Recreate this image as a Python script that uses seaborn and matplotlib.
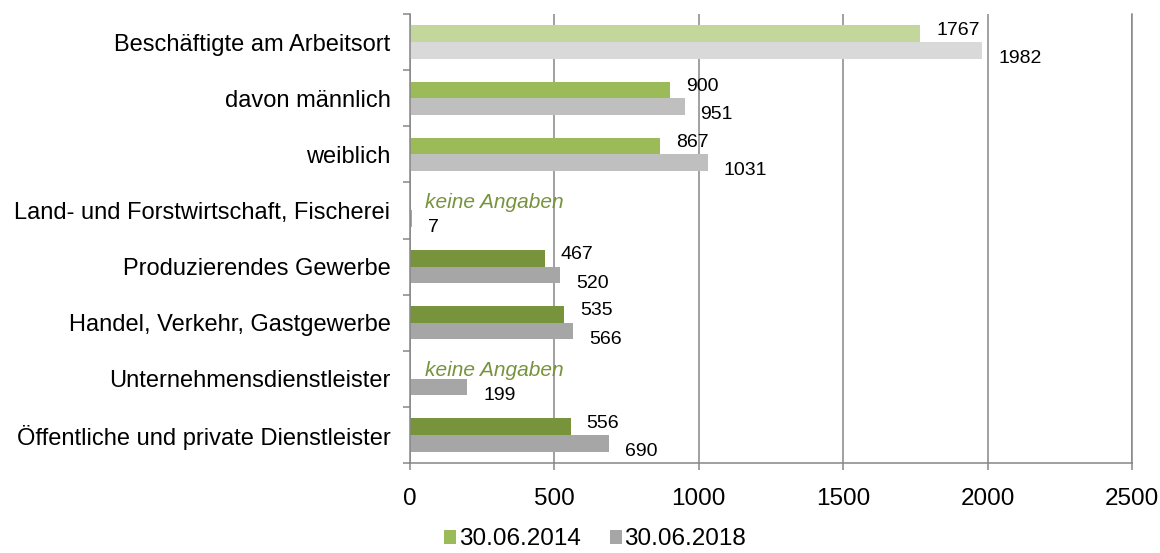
import numpy as np
import pandas as pd
import matplotlib
matplotlib.use('Agg')
import matplotlib.pyplot as plt
from matplotlib.patches import Patch
import seaborn as sns

# Daten
kategorien = [
    'Beschäftigte am Arbeitsort',
    'davon männlich',
    'weiblich',
    'Land- und Forstwirtschaft, Fischerei',
    'Produzierendes Gewerbe',
    'Handel, Verkehr, Gastgewerbe',
    'Unternehmensdienstleister',
    'Öffentliche und private Dienstleister',
]
werte_2014 = [1767, 900, 867, np.nan, 467, 535, np.nan, 556]
werte_2018 = [1982, 951, 1031, 7, 520, 566, 199, 690]
jahre = ['30.06.2014', '30.06.2018']

# Farben je Zeile (2014, 2018)
farben_zeile = [('#C3D69B', '#D9D9D9')] + [('#9BBB59', '#BFBFBF')] * 2 + [('#77933C', '#A6A6A6')] * 5
legende_farben = ['#9BBB59', '#A6A6A6']

df = pd.DataFrame({
    'kategorie': kategorien * 2,
    'wert': werte_2014 + werte_2018,
    'jahr': [jahre[0]] * len(kategorien) + [jahre[1]] * len(kategorien),
})

sns.set_style('white')
plt.rcParams['font.family'] = ['Liberation Sans', 'DejaVu Sans']
plt.rcParams['text.color'] = 'black'
plt.rcParams['xtick.labelcolor'] = 'black'
plt.rcParams['ytick.labelcolor'] = 'black'

fig = plt.figure(figsize=(11.6, 5.53), dpi=100)
ax = fig.add_axes([0.3534, 0.1627, 0.9759 - 0.3534, 0.9747 - 0.1627])

sns.barplot(data=df, y='kategorie', x='wert', hue='jahr', orient='h',
            order=kategorien, hue_order=jahre,
            width=0.59, ax=ax, legend=False, errorbar=None)

# Farben pro Zeile setzen
for j, cont in enumerate(ax.containers):
    for bar in cont:
        w = bar.get_width()
        if np.isnan(w):
            continue
        idx = int(round(bar.get_y() + bar.get_height() / 2 + (0.1475 if j == 0 else -0.1475)))
        bar.set_facecolor(farben_zeile[idx][j])
        bar.set_edgecolor('none')

halb = 0.59 / 4
for i, kat in enumerate(kategorien):
    v14 = werte_2014[i]
    v18 = werte_2018[i]
    if np.isnan(v14):
        ax.annotate('keine Angaben', xy=(0, i - halb), xytext=(11, 0),
                    textcoords='offset points', ha='left', va='center',
                    fontsize=15, style='italic', color='#77933C')
    else:
        ax.annotate(f'{v14:.0f}', xy=(v14, i - halb), xytext=(11.5, 2.5),
                    textcoords='offset points', ha='left', va='center', fontsize=14)
    ax.annotate(f'{v18:.0f}', xy=(v18, i + halb), xytext=(11.5, -6),
                textcoords='offset points', ha='left', va='center', fontsize=14)

ax.set_xlim(0, 2500)
ax.set_ylim(len(kategorien) - 0.5, -0.5)
ax.set_xticks([0, 500, 1000, 1500, 2000, 2500])
ax.set_xlabel('')
ax.set_ylabel('')
ax.grid(axis='x', color='#868686', linewidth=1.1)
ax.grid(axis='y', visible=False)
ax.set_axisbelow(True)

ax.spines['top'].set_visible(False)
for s in ['left', 'bottom', 'right']:
    ax.spines[s].set_color('#868686')
    ax.spines[s].set_linewidth(1.1)

ax.tick_params(axis='x', which='major', length=5, width=1.1, color='#868686',
               direction='out', labelsize=17.5, pad=13, bottom=True)
ax.tick_params(axis='y', which='major', length=0, labelsize=17, pad=14)
ax.set_yticks(np.arange(-0.5, len(kategorien), 1.0), minor=True)
ax.tick_params(axis='y', which='minor', length=5, width=1.1, color='#868686',
               direction='out', left=True)

handles = [Patch(facecolor=c, edgecolor='none', label=l) for c, l in zip(legende_farben, jahre)]
fig.legend(handles=handles, loc='lower center', bbox_to_anchor=(0.513, -0.035), ncol=2,
           frameon=False, fontsize=17.5, handlelength=0.5, handleheight=0.5,
           handletextpad=0.1, columnspacing=1.2)

fig.savefig('out.png', dpi=100)
